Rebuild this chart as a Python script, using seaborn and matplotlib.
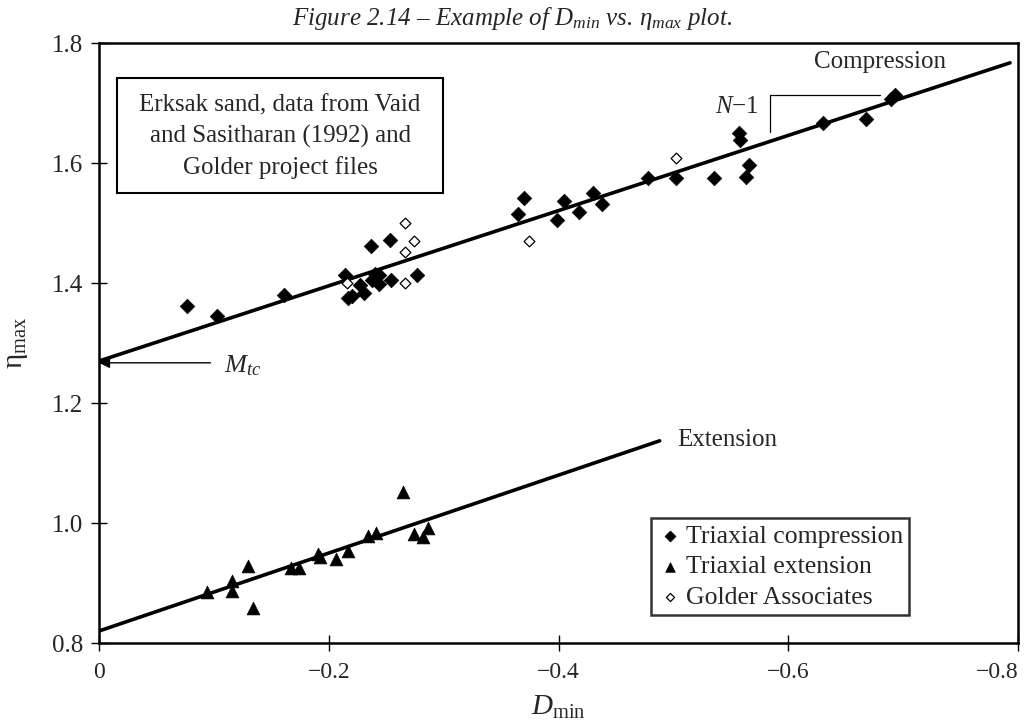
import numpy as np
import pandas as pd
import matplotlib
matplotlib.use("Agg")
import matplotlib.pyplot as plt
import seaborn as sns
from matplotlib.patches import Rectangle

# ---------------- data ----------------
comp_x = [-0.077, -0.103, -0.161, -0.214, -0.237, -0.253, -0.227, -0.217, -0.220,
          -0.231, -0.240, -0.244, -0.238, -0.244, -0.254, -0.277,
          -0.370, -0.365, -0.405, -0.399, -0.418, -0.430, -0.438, -0.478,
          -0.502, -0.535, -0.557, -0.558, -0.566, -0.563, -0.630, -0.668,
          -0.689, -0.693]
comp_y = [1.362, 1.345, 1.380, 1.414, 1.462, 1.471, 1.396, 1.375, 1.379,
          1.383, 1.415, 1.413, 1.405, 1.399, 1.405, 1.413,
          1.541, 1.515, 1.537, 1.505, 1.518, 1.550, 1.531, 1.575,
          1.575, 1.575, 1.650, 1.638, 1.597, 1.576, 1.666, 1.674,
          1.707, 1.713]

ext_x = [-0.094, -0.116, -0.116, -0.130, -0.134, -0.167, -0.174, -0.191, -0.192,
         -0.206, -0.217, -0.234, -0.241, -0.265, -0.274, -0.282, -0.286]
ext_y = [0.885, 0.904, 0.886, 0.928, 0.859, 0.925, 0.925, 0.948, 0.943,
         0.940, 0.954, 0.979, 0.984, 1.051, 0.981, 0.977, 0.992]

golder_x = [-0.266, -0.274, -0.266, -0.216, -0.266, -0.502, -0.374]
golder_y = [1.500, 1.470, 1.451, 1.400, 1.400, 1.609, 1.470]

comp_line_x = [0.0, -0.793]
comp_line_y = [1.270, 1.767]
ext_line_x = [0.0, -0.488]
ext_line_y = [0.820, 1.137]

x_ticks = [0, -0.2, -0.4, -0.6, -0.8]
x_tick_labels = ["0", "\u22120.2", "\u22120.4", "\u22120.6", "\u22120.8"]
y_ticks = [0.8, 1.0, 1.2, 1.4, 1.6, 1.8]
y_tick_labels = ["0.8", "1.0", "1.2", "1.4", "1.6", "1.8"]

series_labels = ["Triaxial compression", "Triaxial extension", "Golder Associates"]

# ---------------- style ----------------
sns.set_theme(style="white")
plt.rcParams["font.family"] = ["Liberation Serif", "DejaVu Serif"]
plt.rcParams["mathtext.fontset"] = "custom"
plt.rcParams["mathtext.rm"] = "Liberation Serif"
plt.rcParams["mathtext.it"] = "Liberation Serif:italic"
plt.rcParams["mathtext.bf"] = "Liberation Serif:bold"

fig = plt.figure(figsize=(10.24, 7.22), dpi=100)
ax = fig.add_axes([0.0967, 0.1094, 0.8975, 0.8310])

df_comp = pd.DataFrame({"x": comp_x, "y": comp_y})
df_ext = pd.DataFrame({"x": ext_x, "y": ext_y})
df_gold = pd.DataFrame({"x": golder_x, "y": golder_y})

sns.lineplot(x=comp_line_x, y=comp_line_y, ax=ax, color="black", lw=2.6, zorder=2)
sns.lineplot(x=ext_line_x, y=ext_line_y, ax=ax, color="black", lw=2.6, zorder=2)

sns.scatterplot(data=df_comp, x="x", y="y", ax=ax, marker="D", s=55, color="black",
                edgecolor="black", linewidth=0.5, label=series_labels[0], zorder=3)
sns.scatterplot(data=df_ext, x="x", y="y", ax=ax, marker="^", s=85, color="black",
                edgecolor="black", linewidth=0.5, label=series_labels[1], zorder=3)
sns.scatterplot(data=df_gold, x="x", y="y", ax=ax, marker="D", s=30, facecolor="white",
                edgecolor="black", linewidth=0.9, label=series_labels[2], zorder=3)

ax.set_xlim(0, -0.8)
ax.set_ylim(0.8, 1.8)
ax.set_xticks(x_ticks)
ax.set_xticklabels(x_tick_labels)
ax.set_yticks(y_ticks)
ax.set_yticklabels(y_tick_labels)
ax.tick_params(axis="both", direction="inout", length=11, width=1, color="black",
               bottom=True, left=True)
ax.tick_params(axis="y", labelsize=18, pad=6)
ax.tick_params(axis="x", labelsize=17, pad=8)
last = ax.get_xticklabels()[-1]
last.set_horizontalalignment("right")
for sp in ax.spines.values():
    sp.set_visible(True)
    sp.set_color("black")
    sp.set_linewidth(1.8)

ax.set_xlabel(r"$D_{\mathrm{min}}$", fontsize=21, labelpad=8)
ax.set_ylabel(r"$\mathrm{\eta_{max}}$", fontsize=21, labelpad=16)
fig.text(0.5, 0.974, r"Figure 2.14 – Example of $D_{min}$ vs. $\eta_{max}$ plot.",
         ha="center", va="center", fontsize=18, style="italic")

# annotations
ax.text(-0.68, 1.768, "Compression", ha="center", va="center", fontsize=18)
ax.text(-0.547, 1.138, "Extension", ha="center", va="center", fontsize=18)
ax.text(-0.555, 1.693, r"$N$" + "\u22121", ha="center", va="center", fontsize=18)
ax.plot([-0.584, -0.584, -0.68], [1.652, 1.713, 1.713], color="black", lw=0.9)
ax.annotate("", xy=(0.0, 1.267), xytext=(-0.097, 1.267),
            arrowprops=dict(arrowstyle="-|>", color="black", lw=1.0,
                            mutation_scale=16, shrinkA=0, shrinkB=0))
ax.text(-0.109, 1.262, r"$M_{tc}$", ha="left", va="center", fontsize=19)

ax.add_patch(Rectangle((-0.0157, 1.550), -0.2838, 0.192, fill=False,
                       edgecolor="black", lw=1.5, zorder=4))
ax.text(-0.1576, 1.644, "Erksak sand, data from Vaid\nand Sasitharan (1992) and\nGolder project files",
        ha="center", va="center", fontsize=18, linespacing=1.45, zorder=5)

leg = ax.legend(loc="upper left", bbox_to_anchor=(0.6007, 0.208), fontsize=18.5,
                frameon=True, fancybox=False, handletextpad=0.1, handlelength=1.0,
                borderpad=0.25, labelspacing=0.3, borderaxespad=0, markerscale=0.75)
leg.get_frame().set_edgecolor("black")
leg.get_frame().set_linewidth(1.8)

fig.savefig("out.png", dpi=100)
